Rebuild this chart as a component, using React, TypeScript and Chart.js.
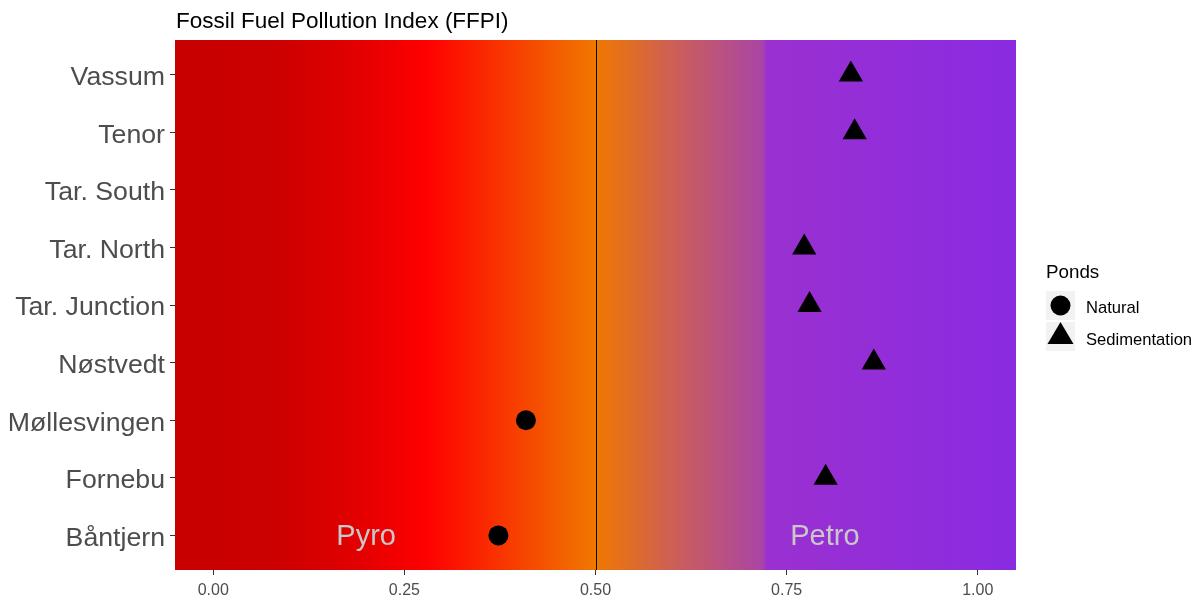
import React, { useEffect, useRef } from 'react';
import { Chart, registerables } from 'chart.js';

Chart.register(...registerables);

// Ponds listed bottom to top
const ponds = ['Båntjern', 'Fornebu', 'Møllesvingen', 'Nøstvedt', 'Tar. Junction', 'Tar. North', 'Tar. South', 'Tenor', 'Vassum'];

const naturalPonds = ['Møllesvingen', 'Båntjern'];
const naturalFFPI = [0.409, 0.373];

const sedimentationPonds = ['Vassum', 'Tenor', 'Tar. North', 'Tar. Junction', 'Nøstvedt', 'Fornebu'];
const sedimentationFFPI = [0.834, 0.839, 0.773, 0.780, 0.864, 0.801];

const xTicks = [0, 0.25, 0.5, 0.75, 1];
const thresholdValue = 0.5;

const zoneLabels = ['Pyro', 'Petro'];
const zoneX = [0.2, 0.8];

const legendTitle = 'Ponds';
const legendLabels = ['Natural', 'Sedimentation'];
const chartTitle = 'Fossil Fuel Pollution Index (FFPI)';

// background gradient stops: [FFPI value, colour]
const gradientValues = [-0.05, 0.08, 0.18, 0.28, 0.5, 0.6, 0.718, 0.724, 1.05];
const gradientColors = ['#C80000', '#CC0000', '#E00000', '#FF0000', '#F07800', '#CD5F55', '#AA45A5', '#9A30D0', '#8A2BE2'];

const FONT = '"Liberation Sans", Arial, sans-serif';

const bgPlugin = {
  id: 'bgPlugin',
  beforeDatasetsDraw(chart: any) {
    const { ctx, chartArea, scales } = chart;
    const xs = scales.x;
    const ys = scales.y;
    const x0 = chartArea.left;
    const x1 = chartArea.right;
    ctx.save();
    const g = ctx.createLinearGradient(x0, 0, x1, 0);
    gradientValues.forEach((v, i) => {
      const p = (xs.getPixelForValue(v) - x0) / (x1 - x0);
      g.addColorStop(Math.min(1, Math.max(0, p)), gradientColors[i]);
    });
    ctx.fillStyle = g;
    ctx.fillRect(x0, chartArea.top, x1 - x0, chartArea.bottom - chartArea.top);

    // threshold line
    const lx = Math.round(xs.getPixelForValue(thresholdValue)) + 0.5;
    ctx.strokeStyle = '#000';
    ctx.lineWidth = 1;
    ctx.beginPath();
    ctx.moveTo(lx, chartArea.top);
    ctx.lineTo(lx, chartArea.bottom);
    ctx.stroke();

    // zone labels
    ctx.fillStyle = '#C8C8C8';
    ctx.font = `29px ${FONT}`;
    ctx.textAlign = 'center';
    ctx.textBaseline = 'middle';
    zoneLabels.forEach((t, i) => {
      ctx.fillText(t, xs.getPixelForValue(zoneX[i]), ys.getPixelForValue(1) + 2);
    });
    ctx.restore();
  },
  afterDraw(chart: any) {
    const { ctx, chartArea } = chart;
    ctx.save();
    // title
    ctx.fillStyle = '#000';
    ctx.font = `22.5px ${FONT}`;
    ctx.textAlign = 'left';
    ctx.textBaseline = 'alphabetic';
    ctx.fillText(chartTitle, chartArea.left + 1, 27.5);

    // legend
    const lx = 1046;
    ctx.font = `18.8px ${FONT}`;
    ctx.fillText(legendTitle, lx, 278);
    ctx.fillStyle = '#F2F2F2';
    ctx.fillRect(lx, 291, 29, 29);
    ctx.fillRect(lx, 322, 29, 29);
    ctx.fillStyle = '#000';
    ctx.beginPath();
    ctx.arc(lx + 14.5, 305.5, 10, 0, Math.PI * 2);
    ctx.fill();
    ctx.beginPath();
    ctx.moveTo(lx + 14.5, 322);
    ctx.lineTo(lx + 27.5, 344);
    ctx.lineTo(lx + 1.5, 344);
    ctx.closePath();
    ctx.fill();
    ctx.font = `16.6px ${FONT}`;
    ctx.textBaseline = 'middle';
    ctx.fillText(legendLabels[0], 1086, 308);
    ctx.fillText(legendLabels[1], 1086, 340);
    ctx.restore();
  },
};

export default function App() {
  const ref = useRef<HTMLCanvasElement>(null);
  useEffect(() => {
    if (!ref.current) return;
    const chart = new Chart(ref.current, {
      type: 'scatter',
      data: {
        datasets: [
          {
            label: legendLabels[0],
            data: naturalPonds.map((p, i) => ({ x: naturalFFPI[i], y: ponds.indexOf(p) + 1 })),
            pointStyle: 'circle',
            pointRadius: 10,
            pointBackgroundColor: '#000',
            pointBorderWidth: 0,
          },
          {
            label: legendLabels[1],
            data: sedimentationPonds.map((p, i) => ({ x: sedimentationFFPI[i], y: ponds.indexOf(p) + 1 })),
            pointStyle: 'triangle',
            pointRadius: 14,
            pointBackgroundColor: '#000',
            pointBorderWidth: 0,
          },
        ],
      },
      options: {
        animation: false,
        responsive: false,
        maintainAspectRatio: false,
        layout: { padding: { top: 40, right: 187, left: 0, bottom: 0 } },
        plugins: { legend: { display: false }, tooltip: { enabled: false }, title: { display: false } },
        scales: {
          x: {
            type: 'linear',
            min: -0.05,
            max: 1.05,
            afterBuildTicks: (s: any) => {
              s.ticks = xTicks.map((v) => ({ value: v }));
            },
            afterFit: (s: any) => {
              s.height = 28;
            },
            ticks: {
              color: '#4D4D4D',
              font: { family: FONT, size: 16 },
              padding: 6,
              maxRotation: 0,
              callback: (v: any) => Number(v).toFixed(2),
            },
            grid: { display: true, drawOnChartArea: false, drawTicks: true, tickLength: 5, tickColor: '#333333' },
            border: { display: false },
          },
          y: {
            type: 'linear',
            min: 0.4,
            max: 9.6,
            afterBuildTicks: (s: any) => {
              s.ticks = ponds.map((_, i) => ({ value: i + 1 }));
            },
            afterFit: (s: any) => {
              s.width = 175;
            },
            ticks: {
              color: '#4D4D4D',
              font: { family: FONT, size: 26.7 },
              padding: 5,
              labelOffset: 3,
              callback: (v: any) => ponds[Number(v) - 1] ?? '',
            },
            grid: { display: true, drawOnChartArea: false, drawTicks: true, tickLength: 5, tickColor: '#333333' },
            border: { display: false },
          },
        },
      },
      plugins: [bgPlugin],
    } as any);
    return () => chart.destroy();
  }, []);
  return (
    <div style={{ position: 'absolute', left: 0, top: 0, width: 1203, height: 598, background: '#fff' }}>
      <canvas ref={ref} width={1203} height={598} style={{ display: 'block' }} />
    </div>
  );
}
